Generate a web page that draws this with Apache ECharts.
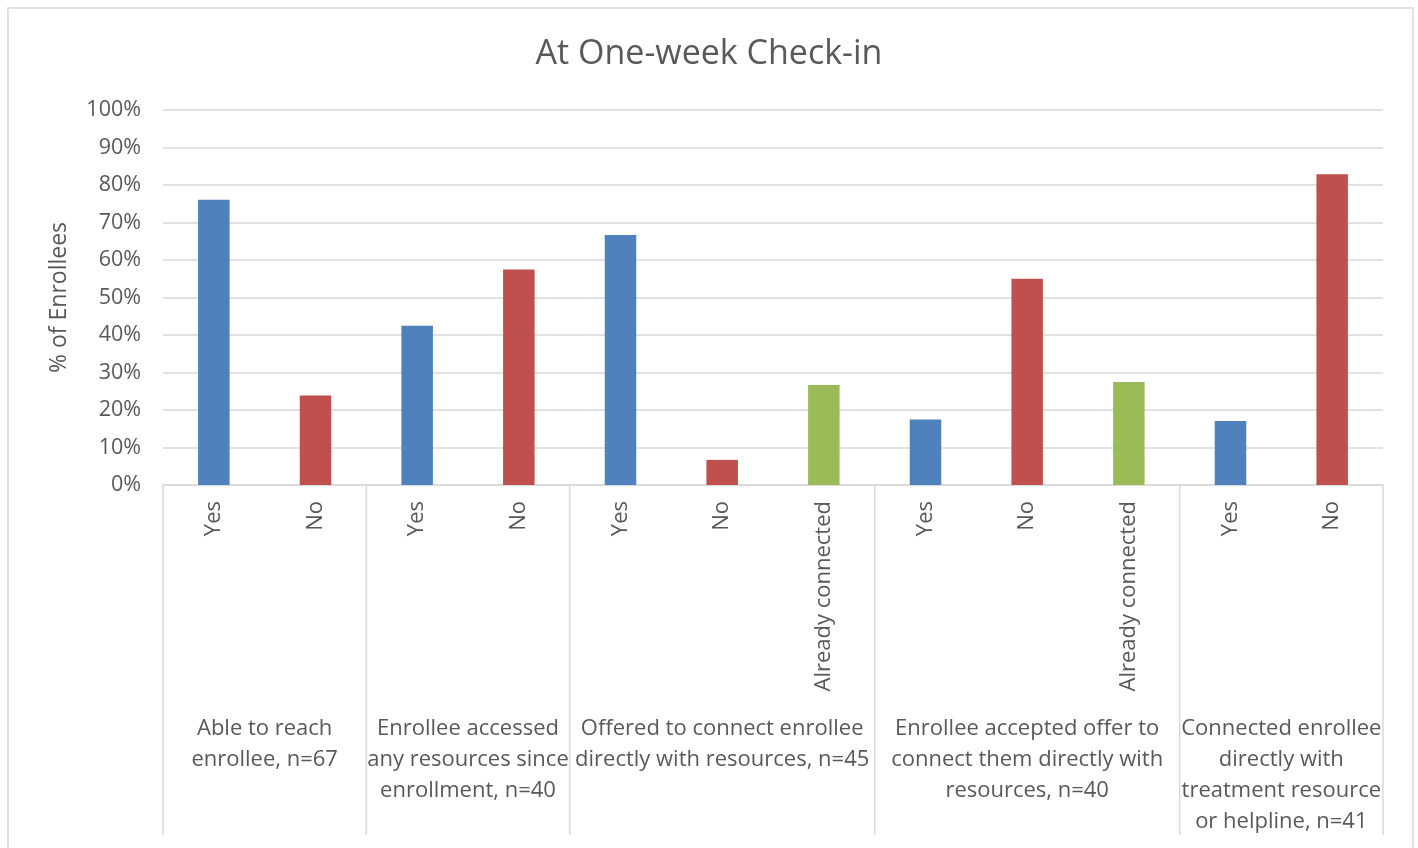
<!DOCTYPE html>
<html>
<head>
<meta charset="utf-8">
<script src="https://cdn.jsdelivr.net/npm/echarts@6/dist/echarts.min.js"></script>
<style>
html,body{margin:0;padding:0;background:#fff;}
#chart{width:1418px;height:848px;}
</style>
</head>
<body>
<div id="chart"></div>
<script>
var categories = ['Yes','No','Yes','No','Yes','No','Already connected','Yes','No','Already connected','Yes','No'];
var values = [76.1, 23.9, 42.5, 57.5, 66.7, 6.7, 26.7, 17.5, 55.0, 27.5, 17.1, 82.9];
var answerTypes = ['yes','no','yes','no','yes','no','already','yes','no','already','yes','no'];
var groupLabels = [
  'Able to reach\nenrollee, n=67',
  'Enrollee accessed\nany resources since\nenrollment, n=40',
  'Offered to connect enrollee\ndirectly with resources, n=45',
  'Enrollee accepted offer to\nconnect them directly with\nresources, n=40',
  'Connected enrollee\ndirectly with\ntreatment resource\nor helpline, n=41'
];
var groupSizes = [2, 2, 3, 3, 2];
var yTicks = [0,10,20,30,40,50,60,70,80,90,100];

var typeColors = {yes:'#4f81bd', no:'#c0504d', already:'#9bbb59'};
var FONT = '"Open Sans", Lato, sans-serif';
var TXT = '#595959';

var chart = echarts.init(document.getElementById('chart'));
var option = {
  animation: false,
  title: {
    text: 'At One-week Check-in',
    left: 'center', top: 32,
    textStyle: {fontFamily: FONT, fontSize: 34, fontWeight: 'normal', color: TXT}
  },
  grid: {left: 163, right: 35, top: 110, bottom: 363, containLabel: false},
  xAxis: {
    type: 'category',
    data: categories,
    axisLine: {lineStyle: {color: '#d9d9d9', width: 1.5}},
    axisTick: {show: false},
    axisLabel: {rotate: 90, interval: 0, margin: 16, fontFamily: FONT, fontSize: 22, color: TXT}
  },
  yAxis: {
    type: 'value', min: 0, max: 100, interval: 10,
    name: '% of Enrollees', nameLocation: 'middle', nameGap: 92,
    nameTextStyle: {fontFamily: FONT, fontSize: 23, color: TXT},
    axisLine: {show: false}, axisTick: {show: false},
    axisLabel: {formatter: function(v){ return yTicks.indexOf(v) >= 0 ? v + '%' : ''; }, margin: 22, fontFamily: FONT, fontSize: 21.5, color: TXT},
    splitLine: {lineStyle: {color: '#d9d9d9', width: 1.5}}
  },
  series: [{
    type: 'bar',
    barWidth: '31%',
    data: values.map(function(v, i){ return {value: v, itemStyle: {color: typeColors[answerTypes[i]]}}; })
  }]
};
chart.setOption(option);

// group separators and labels, positioned through the category axis scale
var gridRect = chart.getModel().getComponent('grid').coordinateSystem.getRect();
var step = gridRect.width / categories.length;
var baseY = gridRect.y + gridRect.height;
var graphics = [];
graphics.push({type:'rect', shape:{x:8, y:8, width:1405, height:900}, style:{fill:'none', stroke:'#d9d9d9', lineWidth:1.5}, silent:true});
var start = 0;
function boundaryX(idx){
  var c = chart.convertToPixel({xAxisIndex:0}, idx === categories.length ? categories.length - 1 : idx);
  return idx === categories.length ? c + step/2 : c - step/2;
}
for (var g = 0; g <= groupSizes.length; g++) {
  var bx = boundaryX(start);
  graphics.push({type:'line', shape:{x1:bx, y1:baseY, x2:bx, y2:835}, style:{stroke:'#d9d9d9', lineWidth:1.5}, silent:true});
  if (g < groupSizes.length) {
    var endX = boundaryX(start + groupSizes[g]);
    graphics.push({type:'text', x:(bx+endX)/2, y:713, style:{text:groupLabels[g], fontFamily:FONT, fontSize:22, fill:TXT, align:'center', verticalAlign:'top', lineHeight:31}, silent:true});
    start += groupSizes[g];
  }
}
chart.setOption({graphic: graphics});
</script>
</body>
</html>
